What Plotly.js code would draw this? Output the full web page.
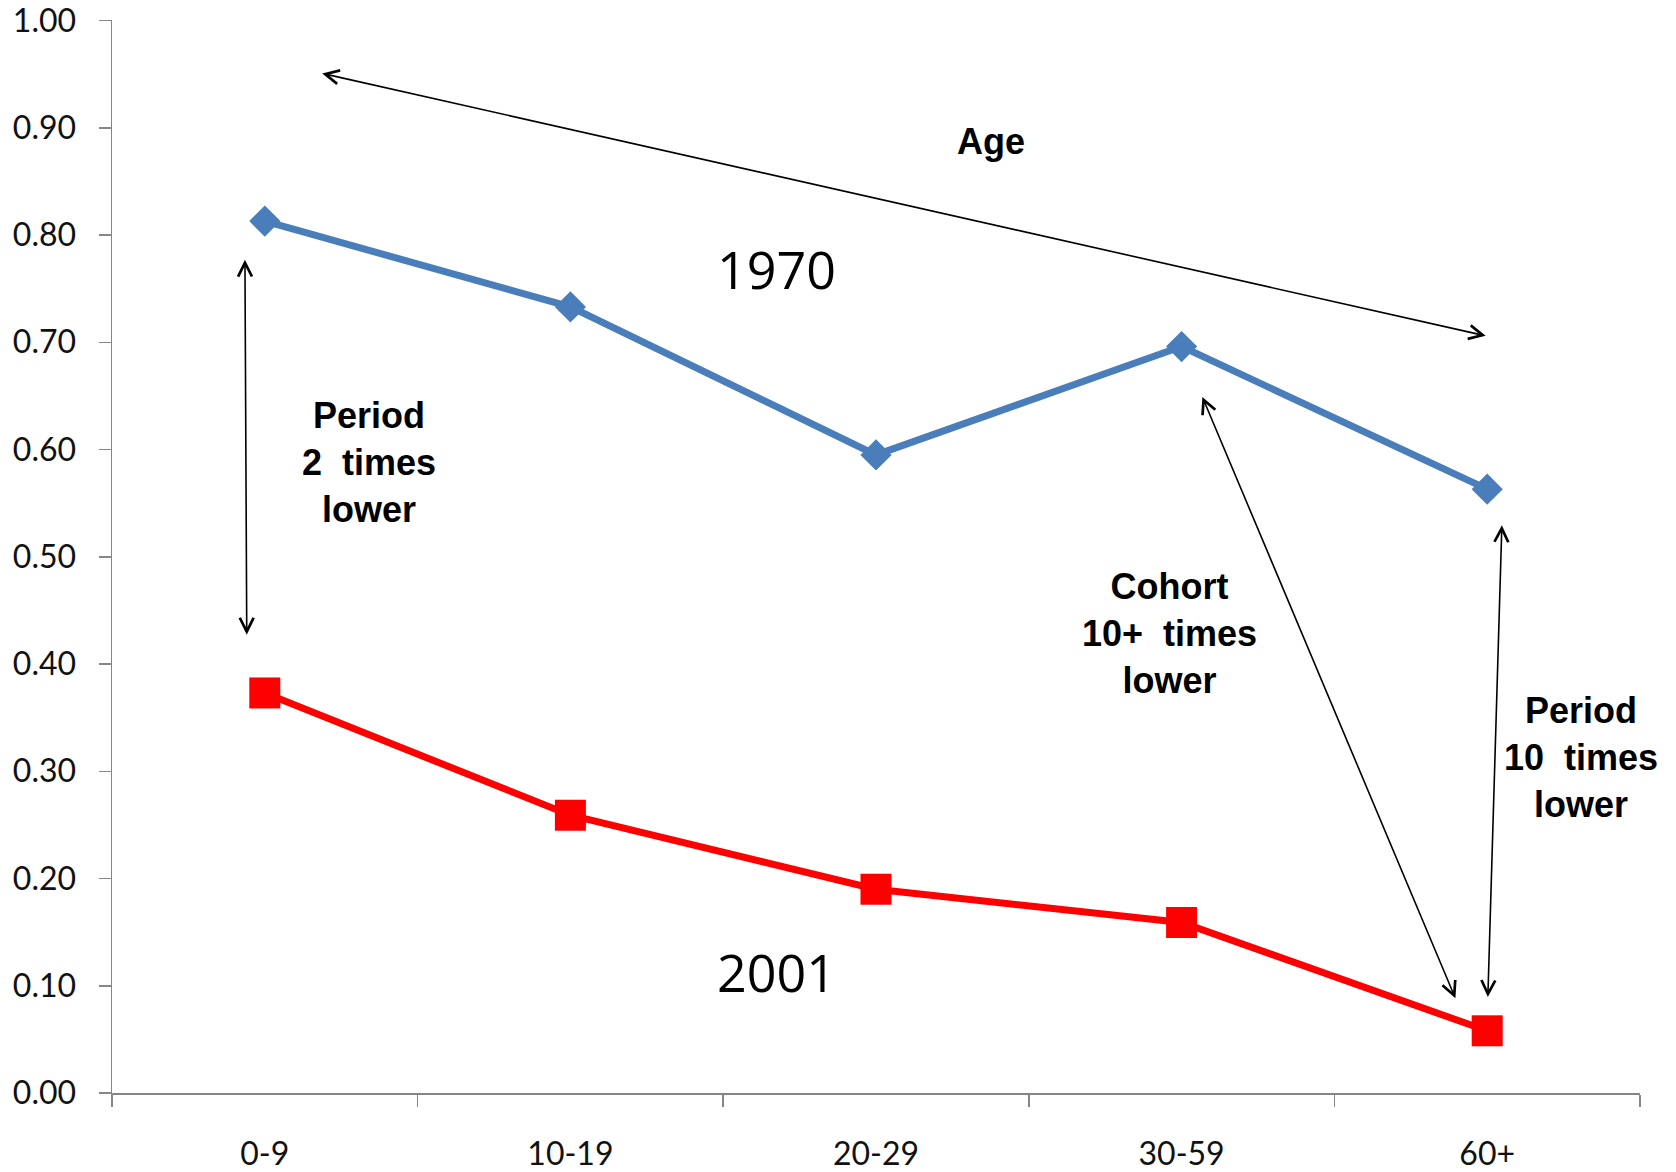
<!DOCTYPE html>
<html>
<head>
<meta charset="utf-8">
<script src="https://cdn.plot.ly/plotly-3.0.1.min.js"></script>
<style>
  html, body { margin: 0; padding: 0; background: #ffffff; }
  #chart { width: 1676px; height: 1172px; }
</style>
</head>
<body>
<div id="chart"></div>
<script>
// ---- data ----
const ageGroups = ["0-9", "10-19", "20-29", "30-59", "60+"];
const values1970 = [0.813, 0.733, 0.595, 0.696, 0.563];
const values2001 = [0.373, 0.259, 0.190, 0.159, 0.058];
const yTickValues = [0, 0.1, 0.2, 0.3, 0.4, 0.5, 0.6, 0.7, 0.8, 0.9, 1.0];

const tickFont = { family: "Lato, Open Sans, sans-serif", size: 32, color: "#111111" };
const boldFont = { family: "Liberation Sans, Arial, sans-serif", size: 36, color: "#000000" };
const yearFont = { family: "Open Sans, Noto Sans, sans-serif", size: 52, color: "#000000" };

const traces = [
  {
    x: ageGroups, y: values1970, type: "scatter", mode: "lines+markers", name: "1970",
    line: { color: "#4A7EBB", width: 7 },
    marker: { symbol: "diamond", size: 24, color: "#4A7EBB" }
  },
  {
    x: ageGroups, y: values2001, type: "scatter", mode: "lines+markers", name: "2001",
    line: { color: "#FF0000", width: 7 },
    marker: { symbol: "square", size: 31, color: "#FF0000" }
  }
];

function arrow(x, y, ax, ay) {
  return {
    x: x, y: y, ax: ax, ay: ay, xref: "x", yref: "y", axref: "x", ayref: "y",
    text: "", showarrow: true, arrowside: "end+start",
    arrowhead: 5, startarrowhead: 5, arrowsize: 1.7, startarrowsize: 1.7,
    arrowwidth: 1.6, arrowcolor: "#000000", standoff: 0, startstandoff: 0
  };
}
function label(x, y, text, font) {
  return { x: x, y: y, xref: "x", yref: "y", text: text, showarrow: false, font: font, align: "center" };
}

const annotations = [
  arrow(3.995, 0.706, 0.183, 0.951),
  arrow(-0.065, 0.777, -0.059, 0.426),
  arrow(3.068, 0.649, 3.898, 0.087),
  arrow(4.048, 0.5295, 4.002, 0.088),
  label(2.376, 0.887, "<b>Age</b>", boldFont),
  label(0.341, 0.588, "<b>Period<br>2\u00a0 times<br>lower</b>", boldFont),
  label(2.962, 0.4287, "<b>Cohort<br>10+\u00a0 times<br>lower</b>", boldFont),
  label(4.307, 0.313, "<b>Period<br>10\u00a0 times<br>lower</b>", boldFont),
  label(1.673, 0.769, "1970", yearFont),
  label(1.673, 0.1137, "2001", yearFont)
];

const layout = {
  width: 1676, height: 1172,
  margin: { l: 112, r: 36, t: 20, b: 79, pad: 0 },
  paper_bgcolor: "#ffffff", plot_bgcolor: "#ffffff",
  showlegend: false,
  xaxis: {
    type: "category", range: [-0.5, 4.5], tickson: "boundaries",
    showline: true, linecolor: "#868686", linewidth: 1.5,
    ticks: "outside", ticklen: 12, tickcolor: "#868686", tickwidth: 1.5,
    showgrid: false, zeroline: false, tickfont: tickFont, ticklabelstandoff: 32
  },
  yaxis: {
    range: [0, 1.0005], tickvals: yTickValues, tickformat: ".2f",
    showline: true, linecolor: "#868686", linewidth: 1.5,
    ticks: "outside", ticklen: 12, tickcolor: "#868686", tickwidth: 1.5,
    showgrid: false, zeroline: false, tickfont: tickFont, ticklabelstandoff: 16,
    ticklabeloverflow: "allow"
  },
  annotations: annotations
};

Plotly.newPlot("chart", traces, layout, { displayModeBar: false, staticPlot: true });
</script>
</body>
</html>
